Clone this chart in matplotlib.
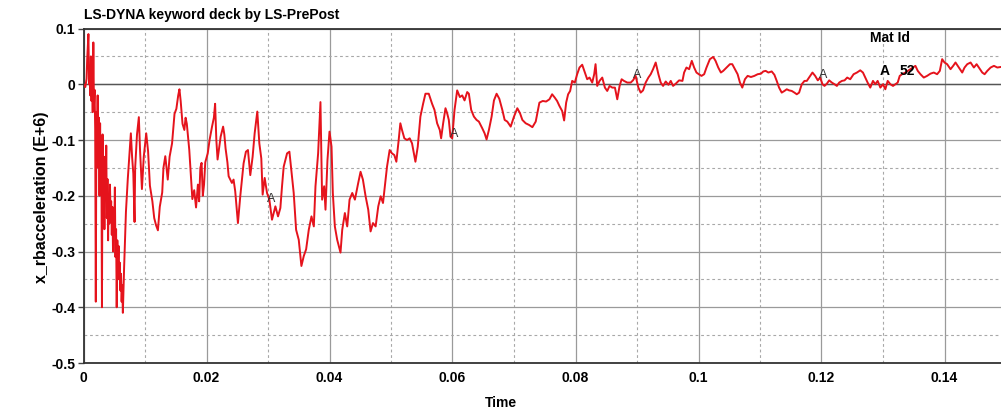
import matplotlib
matplotlib.use("Agg")
import matplotlib.pyplot as plt
from matplotlib.ticker import MultipleLocator

plt.rcParams['font.family'] = ['Liberation Sans', 'DejaVu Sans']

# ---- data (time in s, x_rbacceleration in E+6) ----
time = [
    0.0000, 0.0003, 0.0005, 0.0006, 0.0008, 0.0009, 0.0010, 0.0011, 0.0012, 0.0013,
    0.0014, 0.0015, 0.0016, 0.0017, 0.0018, 0.0019, 0.0020, 0.0021, 0.0022, 0.0023,
    0.0024, 0.0025, 0.0026, 0.0027, 0.0028, 0.0029, 0.0030, 0.0031, 0.0032, 0.0033,
    0.0034, 0.0035, 0.0036, 0.0037, 0.0038, 0.0039, 0.0040, 0.0041, 0.0042, 0.0043,
    0.0044, 0.0045, 0.0046, 0.0047, 0.0048, 0.0049, 0.0050, 0.0051, 0.0052, 0.0053,
    0.0054, 0.0055, 0.0056, 0.0057, 0.0058, 0.0059, 0.0060, 0.0061, 0.0062, 0.0063,
    0.0064, 0.0066,
    0.0069, 0.0072, 0.0075, 0.0077, 0.0079, 0.0081, 0.0083, 0.0084, 0.0087, 0.0090,
    0.0092, 0.0095, 0.0098, 0.0102, 0.0105, 0.0108, 0.0112, 0.0115, 0.0118, 0.0121,
    0.0124, 0.0128, 0.0130, 0.0133, 0.0137, 0.0140, 0.0144, 0.0148, 0.0151, 0.0154,
    0.0156, 0.0158, 0.0161, 0.0164, 0.0166, 0.0168, 0.0172, 0.0175, 0.0177, 0.0180,
    0.0183, 0.0186, 0.0188, 0.0190, 0.0192, 0.0194, 0.0196, 0.0198, 0.0202, 0.0205,
    0.0209, 0.0212, 0.0214, 0.0216, 0.0218, 0.0221, 0.0223, 0.0227, 0.0229, 0.0231,
    0.0234, 0.0236,
    0.02413, 0.0244, 0.02467, 0.02511, 0.02549, 0.02603, 0.02641, 0.02674, 0.02712, 0.0275,
    0.02783, 0.02826, 0.02859, 0.02891, 0.02913, 0.02946, 0.02984, 0.03022, 0.03065, 0.0312,
    0.03163, 0.03201, 0.03228, 0.03255, 0.0331, 0.03348, 0.0338, 0.03418, 0.03457, 0.0350,
    0.03543, 0.03582, 0.0362, 0.03663, 0.03707, 0.03745, 0.03772, 0.03815, 0.03853, 0.0388,
    0.03913, 0.03935, 0.03967, 0.0400, 0.04033, 0.04054, 0.04087, 0.04125, 0.04179, 0.04207,
    0.0425, 0.04288, 0.04326, 0.0437, 0.04413, 0.04467, 0.04505, 0.04543, 0.04587, 0.0463,
    0.04668, 0.04707, 0.0475, 0.04793, 0.04832, 0.0487,
    0.04935, 0.04978, 0.05016, 0.05054, 0.05087, 0.05125, 0.05152, 0.05179, 0.05217, 0.05261,
    0.05304, 0.05342, 0.05397, 0.05435, 0.05478, 0.05522, 0.0556, 0.05614, 0.05668, 0.05707,
    0.0575, 0.05793, 0.05815, 0.05848, 0.05886, 0.05913, 0.0594, 0.05967, 0.05995, 0.06033,
    0.06076, 0.0612, 0.06158, 0.06196, 0.06239, 0.06266, 0.06304, 0.06348, 0.06391, 0.06429,
    0.06484, 0.06522, 0.06554, 0.06592, 0.06636, 0.06674, 0.06717, 0.06761, 0.0681, 0.06848,
    0.06891, 0.06946, 0.0700, 0.07054, 0.07098, 0.07136, 0.0719, 0.07245, 0.07299, 0.07353,
    0.07413, 0.07467, 0.07522, 0.07576, 0.0762, 0.07663, 0.07701, 0.07739, 0.07783, 0.07815,
    0.07848, 0.0788, 0.07913, 0.07946, 0.07989, 0.08027, 0.08065, 0.08109, 0.08152, 0.0819,
    0.08228, 0.08272, 0.08304, 0.08326, 0.08353, 0.08391, 0.08435, 0.08478, 0.08516, 0.08554,
    0.08598, 0.08641, 0.08679, 0.08717, 0.0875, 0.08788, 0.08842, 0.08897, 0.08935, 0.08978,
    0.09022, 0.0906, 0.09098, 0.09141, 0.09185, 0.09223, 0.09261, 0.09304, 0.09348, 0.09386,
    0.09424, 0.09467, 0.09511, 0.09549, 0.09587, 0.0963, 0.09685, 0.09739, 0.09766, 0.09804,
    0.09848, 0.09891, 0.09929,
    0.09967, 0.10005, 0.10049, 0.10092, 0.1013, 0.10185, 0.10239, 0.10277, 0.10321, 0.10364,
    0.10402, 0.10457, 0.10511, 0.10549, 0.10592, 0.10636, 0.10674, 0.10712, 0.10755, 0.10799,
    0.10853, 0.10908, 0.10962, 0.11016, 0.11054, 0.11092, 0.11136, 0.1119, 0.11234, 0.11272,
    0.1131, 0.11353, 0.11397, 0.11435, 0.11473, 0.11516, 0.1156, 0.11598, 0.11636, 0.11679,
    0.11723, 0.11761, 0.11815, 0.11853, 0.11897, 0.1194, 0.11978, 0.12016, 0.12049, 0.12087,
    0.12125, 0.12168, 0.12212, 0.1225, 0.12288, 0.12332, 0.12375, 0.12418, 0.12467,
    0.12522, 0.12576, 0.1263, 0.12674, 0.12712, 0.1275, 0.12793, 0.12837, 0.12875, 0.12913,
    0.12957, 0.1300, 0.13038, 0.13076, 0.1312, 0.13163, 0.13201, 0.13239, 0.13272, 0.1331,
    0.13364, 0.13418, 0.13473, 0.13527, 0.13565, 0.13609, 0.13663, 0.13717, 0.13772, 0.13826,
    0.1388, 0.13924, 0.13962, 0.1400, 0.14043, 0.14098, 0.14141, 0.14179, 0.14234, 0.14288,
    0.14326, 0.1437, 0.14424, 0.14478, 0.14522, 0.14576, 0.14614, 0.14652, 0.14696, 0.1475,
    0.14804, 0.14859, 0.14913, 0.14957,
]
accel = [
    0.000, -0.005, 0.010, 0.045, 0.090, 0.000, 0.030, -0.020, 0.050, -0.030,
    0.020, -0.050, 0.075, -0.040, -0.010, -0.080, -0.390, -0.050, -0.100, -0.020,
    -0.150, -0.060, -0.200, -0.070, -0.180, -0.110, -0.400, -0.090, -0.210, -0.140,
    -0.260, -0.130, -0.190, -0.110, -0.240, -0.170, -0.280, -0.200, -0.250, -0.180,
    -0.230, -0.210, -0.270, -0.220, -0.300, -0.240, -0.270, -0.185, -0.310, -0.260,
    -0.400, -0.280, -0.330, -0.290, -0.350, -0.320, -0.370, -0.340, -0.390, -0.360,
    -0.410, -0.330,
    -0.229, -0.170, -0.120, -0.088, -0.130, -0.160, -0.247, -0.150, -0.090, -0.059,
    -0.120, -0.188, -0.130, -0.088, -0.120, -0.182, -0.210, -0.240, -0.253, -0.262,
    -0.220, -0.194, -0.150, -0.129, -0.171, -0.130, -0.106, -0.053, -0.044, -0.020,
    -0.009, -0.030, -0.071, -0.082, -0.060, -0.071, -0.118, -0.170, -0.206, -0.190,
    -0.221, -0.180, -0.210, -0.150, -0.141, -0.200, -0.180, -0.140, -0.124, -0.100,
    -0.076, -0.060, -0.035, -0.100, -0.135, -0.110, -0.094, -0.076, -0.090, -0.115,
    -0.140, -0.165,
    -0.177, -0.171, -0.192, -0.249, -0.201, -0.142, -0.121, -0.118, -0.163, -0.130,
    -0.088, -0.049, -0.106, -0.133, -0.198, -0.168, -0.195, -0.207, -0.243, -0.219,
    -0.237, -0.222, -0.183, -0.148, -0.124, -0.121, -0.154, -0.195, -0.261, -0.279,
    -0.326, -0.308, -0.296, -0.261, -0.237, -0.255, -0.183, -0.124, -0.032, -0.207,
    -0.183, -0.225, -0.136, -0.085, -0.112, -0.195, -0.255, -0.279, -0.302, -0.261,
    -0.231, -0.255, -0.207, -0.195, -0.207, -0.177, -0.157, -0.171, -0.201, -0.225,
    -0.264, -0.249, -0.255, -0.219, -0.201, -0.213,
    -0.148, -0.118, -0.124, -0.127, -0.139, -0.100, -0.070, -0.082, -0.097, -0.100,
    -0.097, -0.106, -0.139, -0.112, -0.058, -0.035, -0.017, -0.017, -0.035, -0.046,
    -0.070, -0.082, -0.097, -0.070, -0.043, -0.052, -0.064, -0.094, -0.097, -0.046,
    -0.011, -0.023, -0.020, -0.029, -0.014, -0.017, -0.046, -0.058, -0.064, -0.067,
    -0.079, -0.088, -0.099, -0.082, -0.058, -0.029, -0.017, -0.026, -0.046, -0.064,
    -0.067, -0.076, -0.058, -0.043, -0.052, -0.064, -0.070, -0.073, -0.077, -0.067,
    -0.033, -0.030, -0.031, -0.027, -0.018, -0.024, -0.030, -0.039, -0.048, -0.065,
    -0.033, -0.018, -0.012, 0.006, 0.003, 0.018, 0.030, 0.035, 0.021, 0.009,
    0.012, 0.003, 0.018, 0.036, -0.003, 0.006, 0.012, -0.006, -0.012, -0.003,
    -0.006, -0.006, -0.027, -0.003, 0.009, 0.006, 0.003, 0.003, 0.007, 0.015,
    -0.006, -0.015, -0.011, 0.003, 0.012, 0.018, 0.027, 0.039, 0.018, 0.003,
    -0.003, 0.005, -0.001, 0.006, -0.003, 0.001, 0.007, 0.006, 0.021, 0.030,
    0.027, 0.042, 0.030,
    0.021, 0.018, 0.015, 0.018, 0.030, 0.045, 0.049, 0.042, 0.030, 0.021,
    0.024, 0.030, 0.036, 0.036, 0.027, 0.018, 0.003, -0.006, 0.009, 0.015,
    0.013, 0.015, 0.018, 0.019, 0.023, 0.024, 0.021, 0.023, 0.017, 0.006,
    -0.006, -0.015, -0.012, -0.009, -0.011, -0.012, -0.015, -0.018, -0.015, 0.000,
    0.006, 0.006, 0.015, 0.021, 0.015, 0.007, 0.012, 0.000, -0.003, 0.001,
    0.007, 0.003, 0.000, -0.003, 0.003, 0.006, 0.007, 0.012, 0.009,
    0.018, 0.021, 0.025, 0.021, 0.012, 0.003, -0.006, 0.006, 0.000, 0.006,
    -0.006, 0.000, -0.009, 0.006, 0.000, -0.003, 0.000, 0.003, 0.015, 0.018,
    0.021, 0.025, 0.029, 0.033, 0.024, 0.018, 0.012, 0.015, 0.019, 0.021,
    0.018, 0.024, 0.045, 0.039, 0.036, 0.027, 0.033, 0.039, 0.030, 0.021,
    0.030, 0.036, 0.039, 0.030, 0.036, 0.027, 0.021, 0.018, 0.024, 0.030,
    0.033, 0.030, 0.031, 0.030,
]

xticks = [0, 0.02, 0.04, 0.06, 0.08, 0.1, 0.12, 0.14]
xtick_labels = ["0", "0.02", "0.04", "0.06", "0.08", "0.1", "0.12", "0.14"]
yticks = [-0.5, -0.4, -0.3, -0.2, -0.1, 0, 0.1]
ytick_labels = ["-0.5", "-0.4", "-0.3", "-0.2", "-0.1", "0", "0.1"]

# curve label markers "A"
label_t = [0.0305, 0.0603, 0.0900, 0.1203]
label_v = [-0.205, -0.09, 0.016, 0.016]

W, H = 1001, 411
fig = plt.figure(figsize=(W / 100, H / 100), dpi=100)
x0, x1 = 83.5, 1001
y_top, y_bot = 28.5, 363
ax = fig.add_axes([x0 / W, (H - y_bot) / H, (x1 - x0) / W, (y_bot - y_top) / H])

ax.set_xlim(0, (x1 - x0) / 6150.0)
ax.set_ylim(-0.5, 0.1)

# grid
ax.xaxis.set_minor_locator(MultipleLocator(0.01))
ax.yaxis.set_minor_locator(MultipleLocator(0.05))
ax.grid(which='major', color='#9a9a9a', linestyle='-', linewidth=0.9)
ax.grid(which='minor', color='#a8a8a8', linestyle=(0, (2.5, 2.5)), linewidth=0.8)
ax.axhline(0, color='#555555', linewidth=1.0, zorder=1)
ax.set_axisbelow(True)

ax.plot(time, accel, color='#e5131c', linewidth=1.4, zorder=3)

for t, v in zip(label_t, label_v):
    ax.text(t, v, "A", fontsize=9, color='#333333', ha='center', va='center', zorder=4)

ax.set_xticks(xticks)
ax.set_xticklabels(xtick_labels)
ax.set_yticks(yticks)
ax.set_yticklabels(ytick_labels)
for lab in ax.get_xticklabels() + ax.get_yticklabels():
    lab.set_fontweight('bold')
    lab.set_fontsize(10)
ax.tick_params(axis='y', which='major', direction='out', length=4, width=1, color='#444444', pad=2)
ax.tick_params(axis='x', which='major', direction='out', length=0, pad=6)
ax.tick_params(which='minor', length=0)

for s in ['left', 'bottom', 'top']:
    ax.spines[s].set_color('#333333')
    ax.spines[s].set_linewidth(1.3)
ax.spines['right'].set_visible(False)

fig.text(x0 / W, 1 - 15 / H, "LS-DYNA keyword deck by LS-PrePost", fontsize=10,
         fontweight='bold', ha='left', va='center')
fig.text(42 / W, 1 - 197 / H, "x_rbacceleration (E+6)", fontsize=11.5, fontweight='bold',
         rotation=90, ha='center', va='center')
fig.text(501 / W, 1 - 403 / H, "Time", fontsize=10, fontweight='bold', ha='center', va='center')

# legend
fig.text(890 / W, 1 - 38 / H, "Mat Id", fontsize=10, fontweight='bold', ha='center', va='center')
fig.text(885 / W, 1 - 71 / H, "A", fontsize=10, fontweight='bold', ha='center', va='center')
fig.text(907 / W, 1 - 71 / H, "52", fontsize=10, fontweight='bold', ha='center', va='center')

fig.savefig("out.png", dpi=100)
